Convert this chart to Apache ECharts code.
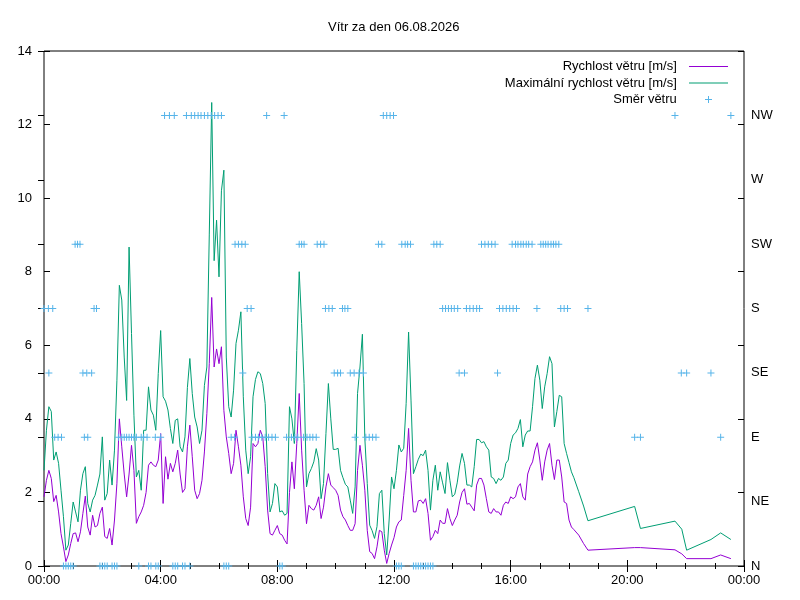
<!DOCTYPE html>
<html>
<head>
    <meta charset="utf-8">
    <title>Vítr za den</title>
    <script src="https://cdn.jsdelivr.net/npm/echarts@6/dist/echarts.min.js"></script>
</head>
<body style="margin:0">
    <div id="main" style="width: 800px;height:600px;"></div>
    <script type="text/javascript">
        // 5-minute samples from 00:00 to 18:00, one row per hour
        var speed = [
            1.88, 2.33, 2.6, 2.38, 1.75, 1.92, 1.47, 0.88, 0.52, 0.12, 0.3, 0.61,
            0.88, 0.9, 0.66, 0.93, 1.43, 1.9, 1.06, 0.84, 1.38, 1.06, 1.1, 1.43,
            1.6, 0.8, 0.75, 1.02, 0.57, 1.25, 2.25, 4.0, 3.24, 2.5, 1.88, 2.5,
            3.28, 2.6, 1.16, 1.34, 1.47, 1.65, 2.0, 2.74, 2.83, 2.74, 2.7, 2.88,
            3.6, 1.7, 2.97, 2.36, 2.79, 2.56, 2.79, 3.15, 2.5, 2.0, 2.1, 3.24,
            3.83, 2.97, 2.06, 1.83, 1.97, 2.33, 3.1, 4.14, 5.5, 7.3, 5.41, 5.9,
            5.5, 5.96, 4.23, 3.51, 3.06, 2.51, 2.79, 3.69, 3.24, 2.74, 1.88, 1.29,
            1.1, 1.6, 3.33, 3.24, 3.33, 3.69, 3.51, 2.7, 1.52, 0.88, 0.84, 0.97,
            1.1, 0.88, 0.84, 0.7, 0.6, 2.0, 2.83, 2.1, 3.33, 4.69, 3.15, 2.06,
            1.15, 1.65, 1.56, 1.52, 1.65, 1.88, 1.29, 1.6, 2.15, 2.51, 2.2, 2.13,
            2.06, 1.92, 1.52, 1.34, 1.25, 1.1, 0.97, 0.97, 1.15, 2.6, 3.28, 2.74,
            2.06, 0.97, 0.39, 0.34, 0.2, 0.52, 0.97, 0.93, 0.43, 0.07, 0.34, 0.57,
            0.77, 1.06, 1.2, 1.25, 1.92, 2.6, 3.74, 2.33, 1.47, 1.47, 1.77, 1.79,
            1.7, 1.83, 1.43, 0.7, 0.8, 0.97, 0.88, 1.25, 1.16, 1.16, 1.56, 1.29,
            1.1, 1.25, 1.38, 1.74, 2.0, 2.1, 1.68, 1.7, 1.6, 1.5, 2.2, 2.38,
            2.38, 2.2, 1.83, 1.47, 1.43, 1.56, 1.47, 1.47, 1.38, 1.65, 1.74, 1.7,
            1.88, 1.83, 1.88, 2.15, 2.24, 1.88, 1.79, 2.5, 2.7, 2.83, 3.15, 3.35,
            2.88, 2.33, 2.83, 3.15, 3.33, 2.74, 2.35, 2.88, 2.88, 2.42, 1.74, 1.7,
            1.25
        ];
        var gust = [
            2.6, 3.69, 4.33, 4.2, 2.88, 3.1, 2.79, 2.06, 1.34, 0.43, 0.57, 1.16,
            1.74, 1.47, 1.2, 2.06, 2.51, 2.7, 1.7, 1.47, 1.79, 1.92, 2.2, 2.5,
            3.51, 1.79, 1.97, 2.88, 2.2, 3.15, 5.05, 7.63, 7.23, 5.68, 4.5, 8.67,
            6.32, 4.1, 2.42, 2.6, 2.06, 3.69, 3.69, 4.87, 4.24, 4.1, 3.69, 5.23,
            6.4, 4.6, 4.48, 4.24, 3.74, 3.33, 3.96, 4.0, 3.24, 3.1, 3.51, 4.85,
            5.64, 4.69, 4.05, 3.78, 3.33, 3.69, 4.91, 5.41, 9.0, 12.6, 8.3, 9.4,
            7.86, 10.2, 10.76, 5.68, 4.33, 4.05, 4.78, 6.05, 6.41, 6.91, 4.6, 3.15,
            2.51, 2.97, 4.6, 5.07, 5.28, 5.23, 4.96, 4.42, 2.51, 1.47, 1.7, 2.24,
            2.15, 1.47, 1.5, 1.38, 1.43, 4.33, 4.0, 3.33, 5.86, 8.0, 6.59, 4.96,
            2.15, 2.51, 2.65, 2.83, 3.19, 2.88, 1.83, 2.24, 3.6, 4.96, 4.0, 3.17,
            3.17, 3.2, 2.6, 2.4, 2.22, 2.15, 1.79, 1.43, 2.15, 4.69, 5.41, 6.3,
            3.47, 2.24, 1.11, 0.96, 0.75, 1.07, 1.97, 2.06, 0.88, 0.3, 1.25, 2.42,
            2.1, 2.6, 3.29, 3.1, 3.2, 4.42, 6.36, 4.51, 2.51, 2.7, 2.9, 3.04,
            3.0, 3.15, 2.6, 1.52, 2.33, 2.74, 2.06, 2.56, 2.26, 1.97, 2.81, 2.33,
            1.88, 1.95, 2.26, 2.72, 3.06, 2.79, 2.2, 2.2, 2.15, 2.7, 3.44, 3.44,
            3.35, 3.38, 3.24, 3.15, 2.42, 2.38, 2.24, 2.38, 2.33, 2.42, 2.79, 2.88,
            3.33, 3.56, 3.62, 3.74, 3.98, 3.24, 3.56, 3.67, 3.67, 4.33, 5.1, 5.46,
            5.05, 4.28, 4.87, 5.23, 5.69, 5.5, 3.78, 4.2, 4.64, 4.6, 3.33, 3.06,
            2.81
        ];

        // sparse readings after 18:00 (minutes of the day)
        var tailMinutes = [1085, 1090, 1100, 1110, 1119, 1215, 1227, 1298, 1312, 1322, 1372, 1392, 1413];
        var tailSpeed   = [1.06, 0.99, 0.84, 0.61, 0.43, 0.5, 0.5, 0.44, 0.33, 0.2, 0.2, 0.3, 0.2];
        var tailGust    = [2.56, 2.4, 2.02, 1.63, 1.23, 1.62, 1.02, 1.22, 1.0, 0.43, 0.72, 0.9, 0.72];

        // wind direction readings, minutes of the day for each compass point
        var dirN  = [40, 45, 50, 55, 60, 115, 120, 125, 130, 140, 145, 150, 195, 215, 220, 230, 235,
                     265, 270, 275, 285, 290, 300, 370, 375, 380, 485, 490, 725, 730, 735,
                     760, 765, 770, 775, 780, 785, 790, 795, 800];
        var dirNE = [];
        var dirE  = [22, 29, 36, 83, 90, 153, 160, 165, 170, 175, 180, 185, 190, 200, 205, 212, 229, 240,
                     385, 392, 428, 435, 441, 448, 455, 462, 469, 476, 499, 509, 516, 522,
                     534, 541, 547, 553, 560, 640, 662, 669, 676, 683, 1215, 1227, 1392];
        var dirSE = [10, 80, 88, 98, 409, 597, 604, 610, 630, 638, 648, 657, 854, 865, 933, 1311, 1322, 1372];
        var dirS  = [0, 9, 18, 103, 108, 418, 426, 579, 586, 593, 614, 619, 625, 820, 826, 832, 838, 844, 851,
                     869, 876, 883, 890, 896, 937, 944, 951, 958, 965, 972, 1014, 1063, 1070, 1077, 1119];
        var dirSW = [64, 69, 74, 393, 400, 407, 414, 525, 530, 535, 562, 569, 576, 688, 695,
                     736, 743, 748, 754, 802, 808, 815, 900, 907, 914, 921, 928,
                     963, 970, 975, 981, 986, 992, 997, 1004, 1022, 1027, 1032, 1037, 1043, 1048, 1053, 1059];
        var dirW  = [];
        var dirNW = [248, 258, 268, 293, 303, 310, 317, 323, 330, 337, 344, 351, 358, 365, 458, 494,
                     698, 705, 712, 719, 1298, 1413];

        var dirNames = ['N', 'NE', 'E', 'SE', 'S', 'SW', 'W', 'NW'];
        var dirLists = [dirN, dirNE, dirE, dirSE, dirS, dirSW, dirW, dirNW];

        // build [minute, value] pairs
        var speedData = [], gustData = [], dirData = [];
        for (var i = 0; i < speed.length; i++) {
            speedData.push([i * 5, speed[i]]);
            gustData.push([i * 5, gust[i]]);
        }
        for (var j = 0; j < tailMinutes.length; j++) {
            speedData.push([tailMinutes[j], tailSpeed[j]]);
            gustData.push([tailMinutes[j], tailGust[j]]);
        }
        dirLists.forEach(function (list, k) {
            list.forEach(function (t) { dirData.push([t, k * 45]); });
        });

        function pad(n) { return (n < 10 ? '0' : '') + n; }
        function hhmm(v) { return pad(Math.floor(v / 60) % 24) + ':' + pad(v % 60); }

        var font = 'Liberation Sans, Arial, sans-serif';
        var plus = 'path://M3,0L4,0L4,3L7,3L7,4L4,4L4,7L3,7L3,4L0,4L0,3L3,3Z';
        // same cross with empty margin so the legend draws it smaller
        var plusKey = 'path://M-1.5,-1.5M8.5,8.5M3,0L4,0L4,3L7,3L7,4L4,4L4,7L3,7L3,4L0,4L0,3L3,3Z';
        var lineKey = 'path://M0,0L39,0L39,1L0,1Z';

        var myChart = echarts.init(document.getElementById('main'));
        var option = {
            animation: false,
            backgroundColor: '#fff',
            textStyle: { fontFamily: font },
            title: {
                text: 'Vítr za den 06.08.2026',
                left: 323,
                top: 16,
                textStyle: { fontSize: 13, fontWeight: 'normal', color: '#000', fontFamily: font }
            },
            legend: {
                orient: 'vertical',
                align: 'right',
                right: 72,
                top: 60,
                padding: 0,
                itemWidth: 39,
                itemHeight: 10,
                itemGap: 3.5,
                formatter: function (n) { return n + '  '; },
                textStyle: { fontSize: 13, color: '#000', fontFamily: font, lineHeight: 13 },
                data: [
                    { name: 'Rychlost větru [m/s]', icon: lineKey },
                    { name: 'Maximální rychlost větru [m/s]', icon: lineKey },
                    { name: 'Směr větru', icon: plusKey }
                ]
            },
            grid: {
                left: 44, right: 56, top: 51, bottom: 34,
                show: true, borderColor: '#000', borderWidth: 1
            },
            xAxis: [{
                type: 'value', min: 0, max: 1440, interval: 240,
                axisLine: { show: false },
                axisTick: { inside: true, length: 6, lineStyle: { color: '#000' } },
                minorTick: { show: true, splitNumber: 4, length: 3, lineStyle: { color: '#000' } },
                splitLine: { show: false },
                axisLabel: { formatter: hhmm, color: '#000', fontSize: 13, margin: 8, fontFamily: font }
            }, {
                type: 'value', min: 0, max: 1440, interval: 240, position: 'top',
                axisLine: { show: false },
                axisTick: { inside: true, length: 6, lineStyle: { color: '#000' } },
                minorTick: { show: true, splitNumber: 4, length: 3, lineStyle: { color: '#000' } },
                splitLine: { show: false },
                axisLabel: { show: false }
            }],
            yAxis: [{
                type: 'value', min: 0, max: 14, interval: 2, position: 'left',
                axisLine: { show: false },
                axisTick: { show: true, inside: true, length: 6, lineStyle: { color: '#000' } },
                splitLine: { show: false },
                axisLabel: { color: '#000', fontSize: 13, margin: 12, fontFamily: font }
            }, {
                type: 'value', min: 0, max: 360, interval: 45, position: 'right',
                axisLine: { show: false },
                axisTick: { show: true, inside: true, length: 6, lineStyle: { color: '#000' } },
                splitLine: { show: false },
                axisLabel: {
                    color: '#000', fontSize: 13, margin: 7, fontFamily: font,
                    formatter: function (v) { return dirNames[v / 45] || ''; }
                }
            }, {
                type: 'value', min: 0, max: 14, interval: 2, position: 'right',
                axisLine: { show: false },
                axisTick: { show: true, inside: true, length: 6, lineStyle: { color: '#000' } },
                splitLine: { show: false },
                axisLabel: { show: false }
            }],
            series: [{
                name: 'Rychlost větru [m/s]',
                type: 'line',
                data: speedData,
                symbol: 'none',
                lineStyle: { color: '#9400d3', width: 1 },
                itemStyle: { color: '#9400d3' },
                z: 3
            }, {
                name: 'Maximální rychlost větru [m/s]',
                type: 'line',
                data: gustData,
                symbol: 'none',
                lineStyle: { color: '#009e73', width: 1 },
                itemStyle: { color: '#009e73' },
                z: 2
            }, {
                name: 'Směr větru',
                type: 'scatter',
                yAxisIndex: 1,
                data: dirData,
                symbol: plus,
                symbolSize: 7,
                symbolKeepAspect: true,
                itemStyle: { color: '#56b4e9', opacity: 1 },
                z: 4
            }]
        };
        myChart.setOption(option);
    </script>
</body>
</html>
